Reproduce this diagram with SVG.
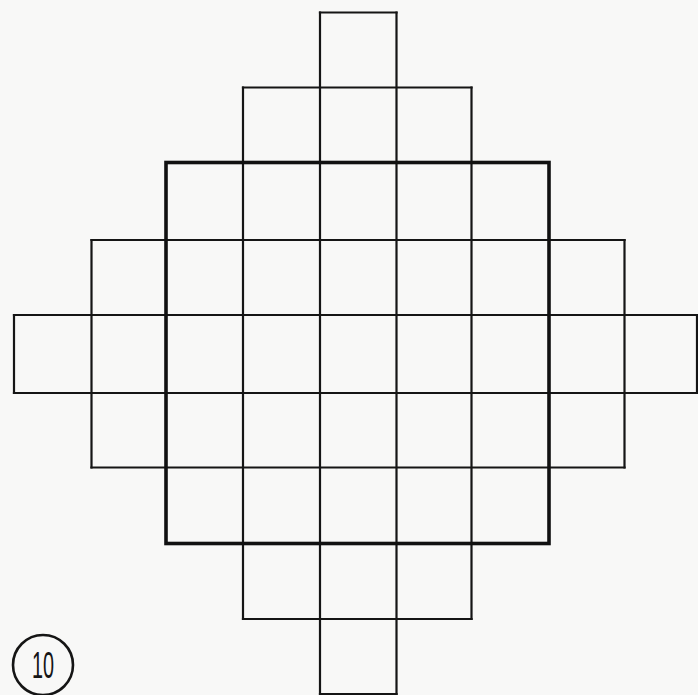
<svg xmlns="http://www.w3.org/2000/svg" width="698" height="695" viewBox="0 0 698 695">
<style>
.g{stroke:#151515;stroke-width:2.2;fill:none;stroke-linecap:square}
.b{stroke:#111;stroke-width:3.6;fill:none;stroke-linejoin:miter}
.lbl{font-family:"Liberation Sans",Arial,sans-serif;font-size:36px;fill:#151515}
</style>
<rect width="698" height="695" fill="#f8f8f7"/>
<g id="grid" class="g">
<path d="M320 12.5H396.5M243 87.5H471.5M91.5 240H624.5M14 315H697M14 393H697M91.5 467.5H624.5M243 619H471.5M320 694H396.5"/>
<path d="M14 315V393M91.5 240V467.5M243 87.5V619M320 12.5V695M396.5 12.5V695M471.5 87.5V619M624.5 240V467.5M697 315V393"/>
</g>
<rect id="square" class="b" x="166" y="162.5" width="383" height="381"/>
<g id="label">
<circle cx="43" cy="665" r="30" fill="none" stroke="#151515" stroke-width="2.6"/>
<text class="lbl" x="43" y="678" text-anchor="middle" textLength="22" lengthAdjust="spacingAndGlyphs">10</text>
</g>
</svg>
